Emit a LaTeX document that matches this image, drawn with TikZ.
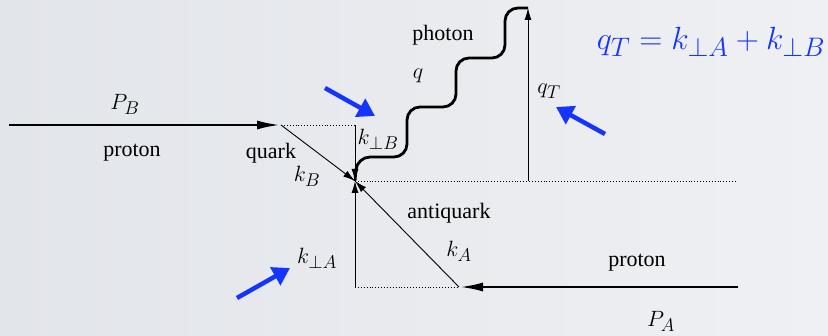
\documentclass[tikz,border=0pt]{standalone}
\usepackage{graphicx}
\usepackage{fontspec}
\setmainfont{Liberation Serif}
\newfontfamily\txtfont{Liberation Serif}
\usetikzlibrary{arrows.meta}
\definecolor{bgA}{HTML}{E2E5EA}
\definecolor{bgB}{HTML}{EFF0F3}
\definecolor{hblue}{HTML}{1535FF}
\tikzset{
  lbl/.style={inner sep=0pt, font=\txtfont\fontsize{22}{26}\selectfont},
  mlbl/.style={inner sep=0pt, scale=0.89, font=\fontsize{24.88}{30}\selectfont},
  thickarrow/.style={line width=2.8pt, -{Latex[length=24pt,width=9pt]}},
  thinarrow/.style={line width=0.9pt, -{Latex[length=12pt,width=7pt]}},
  dotline/.style={line width=0.9pt, dotted},
  photonline/.style={line width=2.8pt, rounded corners=13pt},
  bluearrow/.style={hblue, line width=4.5pt, -{Triangle[length=17pt,width=20pt]}}
}
\begin{document}
\begin{tikzpicture}[x=1pt,y=1pt]
\shade[left color=bgA, right color=bgB] (0,0) rectangle (828,-336);
\useasboundingbox (0,0) rectangle (828,-336);
% key points
\coordinate (PBs) at (9,-125);
\coordinate (QB) at (281,-125);
\coordinate (PerpB) at (355,-125);
\coordinate (V) at (355,-181);
\coordinate (DotEnd) at (736,-181);
\coordinate (QTbase) at (528,-181);
\coordinate (QTtop) at (528,-8);
\coordinate (PerpA) at (355,-287);
\coordinate (QA) at (459,-287);
\coordinate (PAs) at (738,-287);
% proton lines
\draw[thickarrow] (PBs) -- (QB);
\draw[thickarrow] (PAs) -- (QA);
% dotted guides
\draw[dotline] (QB) -- (PerpB);
\draw[dotline] (V) -- (DotEnd);
\draw[dotline] (PerpA) -- (QA);
% parton lines
\draw[thinarrow] (QB) -- (V);
\draw[thinarrow] (PerpB) -- (V);
\draw[thinarrow] (QA) -- (V);
\draw[thinarrow] (PerpA) -- (V);
\draw[thinarrow] (QTbase) -- (QTtop);
% photon
\draw[photonline] (V) -- (357,-157) -- (407,-157) -- (407,-107) -- (456,-107)
  -- (456,-58) -- (505,-58) -- (505,-8) -- (QTtop);
% labels
\node[mlbl] (lPB) at (125,-104) {$P_B$};
\node[lbl] (lprotB) at (132,-153) {proton};
\node[lbl] (lquark) at (271,-153) {quark};
\node[mlbl] (lkB) at (307,-176) {$k_B$};
\node[mlbl] (lkpB) at (378,-139) {$k_{\perp B}$};
\node[lbl] (lphoton) at (443,-35) {photon};
\node[mlbl] (lq) at (418,-76) {$q$};
\node[mlbl] (lqT) at (549,-91) {$q_T$};
\node[lbl] (lanti) at (449,-213) {antiquark};
\node[mlbl] (lkA) at (459,-251) {$k_A$};
\node[mlbl] (lkpA) at (317,-258) {$k_{\perp A}$};
\node[lbl] (lprotA) at (637,-263) {proton};
\node[mlbl] (lPA) at (661,-321) {$P_A$};
\node[inner sep=0pt, text=hblue, font=\fontsize{24.88}{30}\selectfont] (eq) at (711,-42) {\scalebox{1.29}{$q_T = k_{\perp A} + k_{\perp B}$}};
% blue pointers
\coordinate (b1s) at (325,-88);
\coordinate (b1e) at (375,-116);
\coordinate (b2s) at (605,-134);
\coordinate (b2e) at (556,-107);
\coordinate (b3s) at (237,-298);
\coordinate (b3e) at (290,-268);
\draw[bluearrow] (b1s) -- (b1e);
\draw[bluearrow] (b2s) -- (b2e);
\draw[bluearrow] (b3s) -- (b3e);
\end{tikzpicture}
\end{document}
